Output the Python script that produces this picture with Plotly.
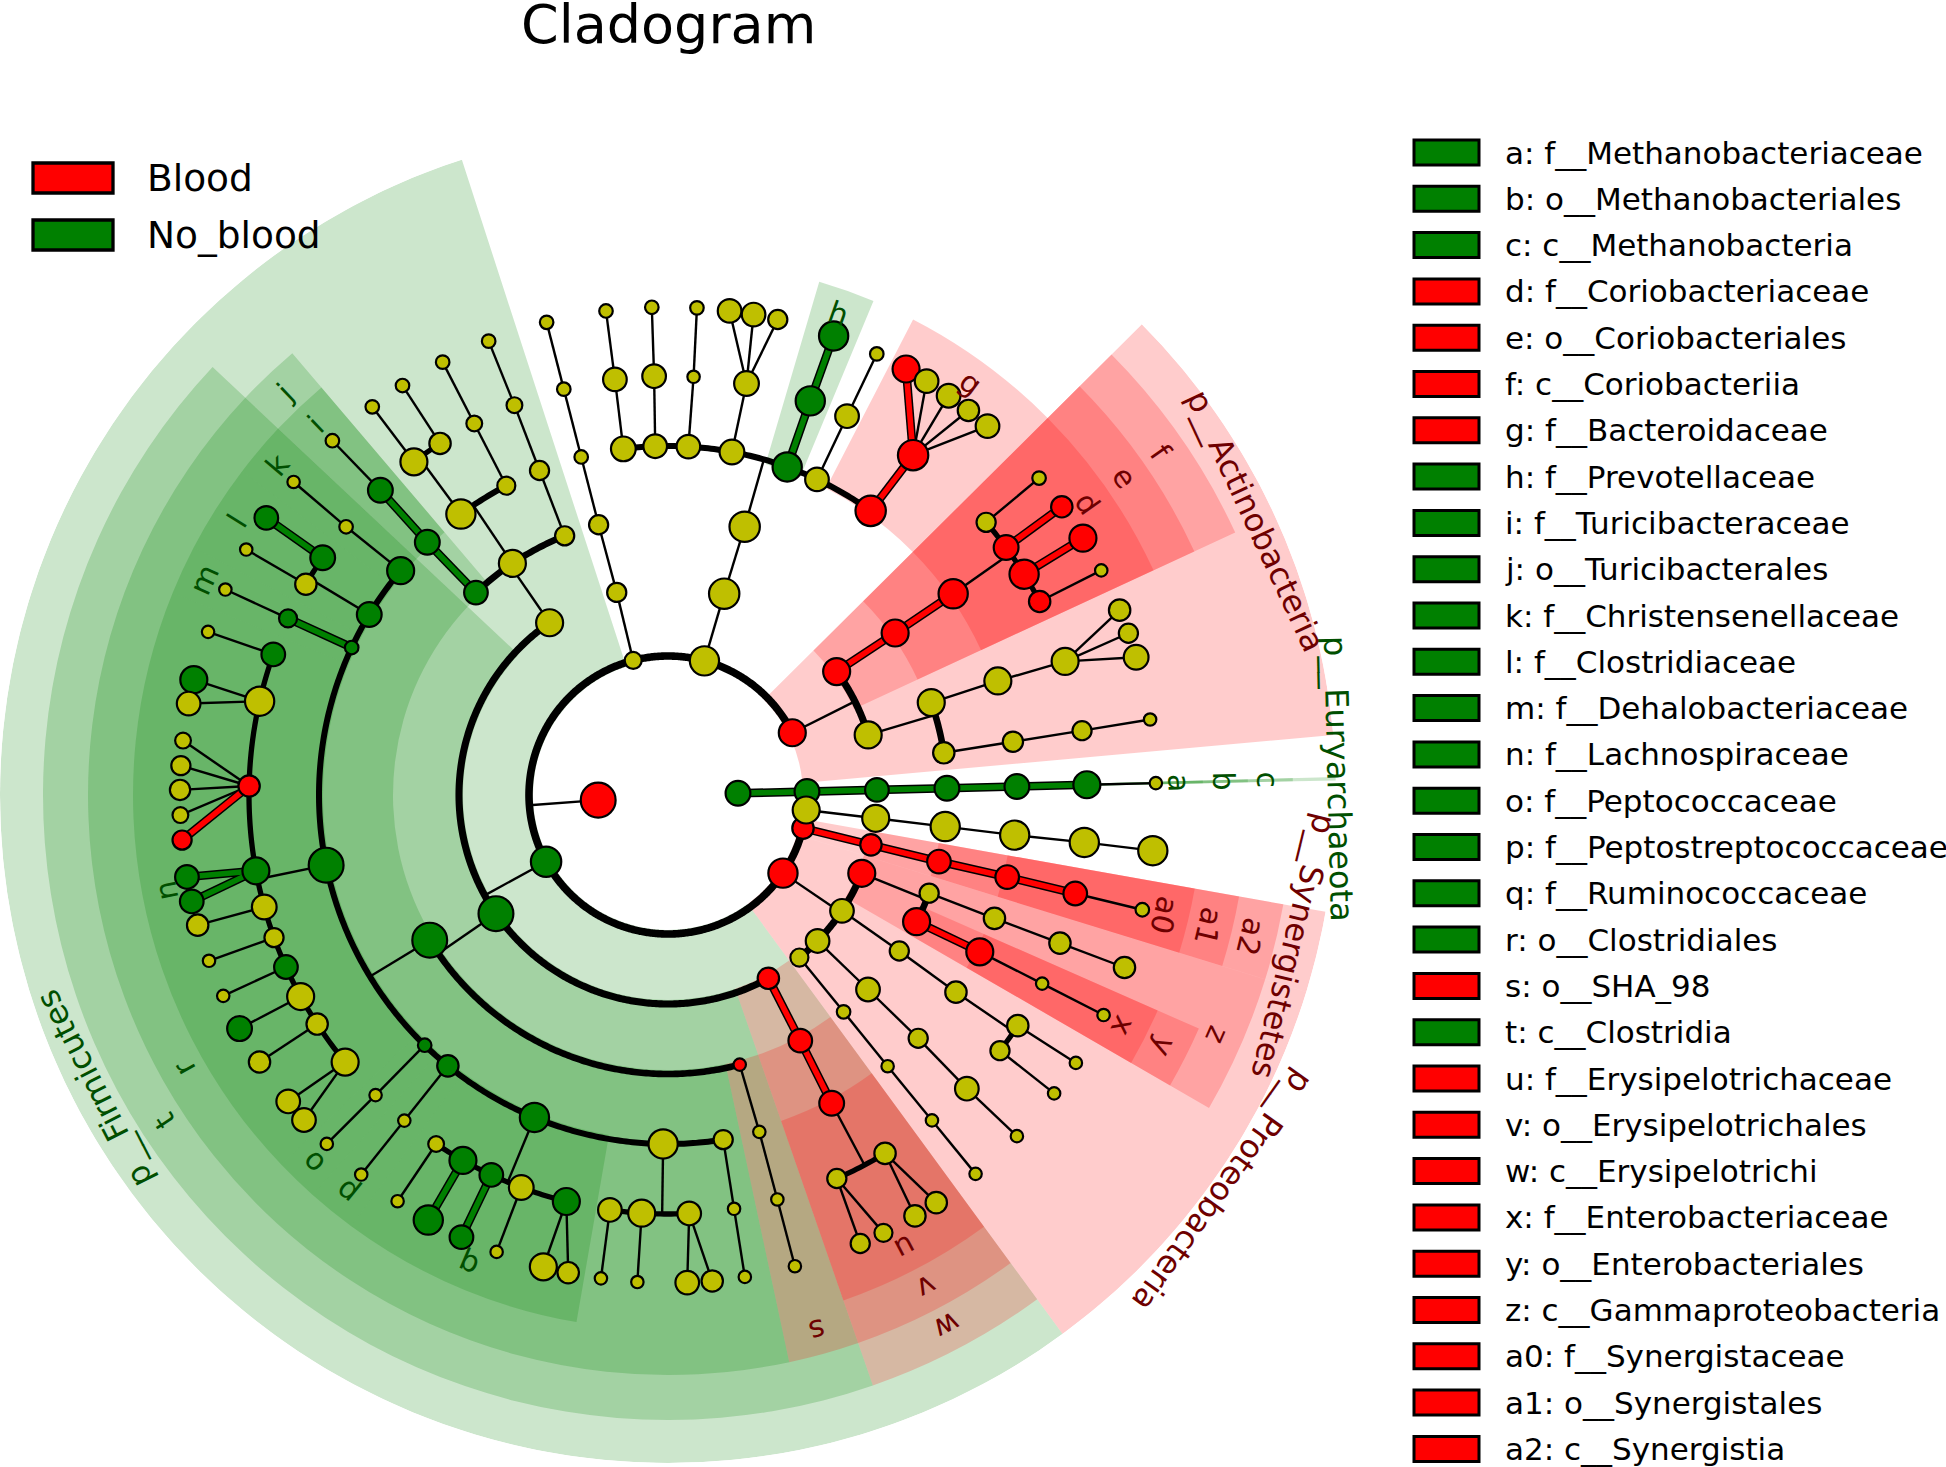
import numpy as np
import plotly.graph_objects as go

# ------------------------------------------------------------------ data
# ring radius (px) of every taxonomic level: root, kingdom, phylum, class, order, family, genus, species
LEVEL_RADIUS = [0, 70, 139, 209, 279, 349, 419, 488]

# clade tables: (id, parent, level, angle in degrees, node size, enriched in)
#   enriched in: "B" = Blood, "N" = No_blood, "" = not significant
ARCHAEA = [
    ("k_Archaea", None, 1, 1.4, 23, "N"),
    ("p_Euryarchaeota", "k_Archaea", 2, 1.4, 23, "N"),
    ("c_Methanobacteria", "p_Euryarchaeota", 3, 1.4, 22, "N"),
    ("o_Methanobacteriales", "c_Methanobacteria", 4, 1.4, 23, "N"),
    ("f_Methanobacteriaceae", "o_Methanobacteriales", 5, 1.4, 23, "N"),
    ("g_Methanobrevibacter", "f_Methanobacteriaceae", 6, 1.4, 25, "N"),
    ("s_Methanobrevibacter", "g_Methanobrevibacter", 7, 1.4, 12, ""),
]

BACTERIA = [
    ("k_Bacteria", None, 1, 184.2, 32, "B"),
]

ACTINOBACTERIA = [
    ("p_Actinobacteria", "k_Bacteria", 2, 26.6, 25, "B"),
    ("c_Coriobacteriia", "p_Actinobacteria", 3, 36.2, 25, "B"),
    ("o_Coriobacteriales", "c_Coriobacteriia", 4, 35.5, 25, "B"),
    ("f_Coriobacteriaceae", "o_Coriobacteriales", 5, 35.2, 27, "B"),
    ("g_Cor1", "f_Coriobacteriaceae", 6, 40.6, 18, ""),
    ("s_Cor1", "g_Cor1", 7, 40.5, 13, ""),
    ("g_Cor2", "f_Coriobacteriaceae", 6, 36.2, 23, "B"),
    ("s_Cor2", "g_Cor2", 7, 36.2, 20, "B"),
    ("g_Cor3", "f_Coriobacteriaceae", 6, 31.8, 27, "B"),
    ("s_Cor3", "g_Cor3", 7, 31.76, 25, "B"),
    ("g_Cor4", "f_Coriobacteriaceae", 6, 27.5, 20, "B"),
    ("s_Cor4", "g_Cor4", 7, 27.4, 12, ""),
    ("c_Actinobacteria", "p_Actinobacteria", 3, 16.7, 25, ""),
    ("o_Act1", "c_Actinobacteria", 4, 19.34, 25, ""),
    ("f_Act1", "o_Act1", 5, 19.07, 25, ""),
    ("g_Act1", "f_Act1", 6, 18.6, 25, ""),
    ("s_Act1a", "g_Act1", 7, 22.26, 20, ""),
    ("s_Act1b", "g_Act1", 7, 19.36, 18, ""),
    ("s_Act1c", "g_Act1", 7, 16.4, 23, ""),
    ("o_Act2", "c_Actinobacteria", 4, 8.7, 20, ""),
    ("f_Act2", "o_Act2", 5, 8.78, 19, ""),
    ("g_Act2", "f_Act2", 6, 8.83, 18, ""),
    ("s_Act2", "g_Act2", 7, 8.9, 12, ""),
]

BACTEROIDETES = [
    ("p_Bacteroidetes", "k_Bacteria", 2, 74.8, 27, ""),
    ("c_Bacteroidia", "p_Bacteroidetes", 3, 74.4, 28, ""),
    ("o_Bacteroidales", "c_Bacteroidia", 4, 74.05, 28, ""),
    ("f_Bd1", "o_Bacteroidales", 5, 97.35, 23, ""),
    ("g_Bd1", "f_Bd1", 6, 97.28, 22, ""),
    ("s_Bd1", "g_Bd1", 7, 97.3, 13, ""),
    ("f_Bd2", "o_Bacteroidales", 5, 92.1, 22, ""),
    ("g_Bd2", "f_Bd2", 6, 91.9, 22, ""),
    ("s_Bd2", "g_Bd2", 7, 91.9, 13, ""),
    ("f_Bd3", "o_Bacteroidales", 5, 86.65, 22, ""),
    ("g_Bd3", "f_Bd3", 6, 86.5, 12, ""),
    ("s_Bd3", "g_Bd3", 7, 86.6, 13, ""),
    ("f_Bd4", "o_Bacteroidales", 5, 79.44, 23, ""),
    ("g_Bd4", "f_Bd4", 6, 79.2, 23, ""),
    ("s_Bd4a", "g_Bd4", 7, 82.75, 22, ""),
    ("s_Bd4b", "g_Bd4", 7, 79.9, 22, ""),
    ("s_Bd4c", "g_Bd4", 7, 77.0, 18, ""),
    ("f_Prevotellaceae", "o_Bacteroidales", 5, 70.03, 27, "N"),
    ("g_Prevotella", "f_Prevotellaceae", 6, 70.15, 27, "N"),
    ("s_Prevotella", "g_Prevotella", 7, 70.16, 27, "N"),
    ("f_Bd6", "o_Bacteroidales", 5, 64.73, 22, ""),
    ("g_Bd6", "f_Bd6", 6, 64.7, 22, ""),
    ("s_Bd6", "g_Bd6", 7, 64.67, 13, ""),
    ("f_Bacteroidaceae", "o_Bacteroidales", 5, 54.5, 28, "B"),
    ("g_Bacteroides", "f_Bacteroidaceae", 6, 54.2, 28, "B"),
    ("s_Bac1", "g_Bacteroides", 7, 60.8, 25, "B"),
    ("s_Bac2", "g_Bacteroides", 7, 58.0, 22, ""),
    ("s_Bac3", "g_Bacteroides", 7, 54.9, 22, ""),
    ("s_Bac4", "g_Bacteroides", 7, 52.0, 20, ""),
    ("s_Bac5", "g_Bacteroides", 7, 49.1, 22, ""),
]

PHYLUM_A = [
    ("p_A", "k_Bacteria", 2, 104.5, 16, ""),
    ("c_A", "p_A", 3, 104.2, 18, ""),
    ("o_A", "c_A", 4, 104.4, 18, ""),
    ("f_A", "o_A", 5, 104.4, 13, ""),
    ("g_A", "f_A", 6, 104.4, 13, ""),
    ("s_A", "g_A", 7, 104.4, 13, ""),
]

FIRMICUTES = [
    ("p_Firmicutes", "k_Bacteria", 2, 208.7, 28, "N"),
    # Bacilli
    ("c_Bacilli", "p_Firmicutes", 3, 124.5, 25, ""),
    ("o_Turicibacterales", "c_Bacilli", 4, 133.5, 22, "N"),
    ("f_Turicibacteraceae", "o_Turicibacterales", 5, 133.6, 23, "N"),
    ("g_Turicibacter", "f_Turicibacteraceae", 6, 133.35, 23, "N"),
    ("s_Turicibacter", "g_Turicibacter", 7, 133.45, 13, ""),
    ("o_Lactobacillales", "c_Bacilli", 4, 123.9, 25, ""),
    ("f_Lb1", "o_Lactobacillales", 5, 126.4, 27, ""),
    ("g_Lb1a", "f_Lb1", 6, 127.33, 25, ""),
    ("s_Lb1a", "g_Lb1a", 7, 127.3, 13, ""),
    ("g_Lb1b", "f_Lb1", 6, 122.96, 20, ""),
    ("s_Lb1b", "g_Lb1b", 7, 122.96, 13, ""),
    ("f_Lb2", "o_Lactobacillales", 5, 117.6, 17, ""),
    ("g_Lb2", "f_Lb2", 6, 117.54, 15, ""),
    ("s_Lb2", "g_Lb2", 7, 117.5, 13, ""),
    ("o_Bacillales", "c_Bacilli", 4, 111.74, 18, ""),
    ("f_Bc1", "o_Bacillales", 5, 111.6, 18, ""),
    ("g_Bc1", "f_Bc1", 6, 111.5, 15, ""),
    ("s_Bc1", "g_Bc1", 7, 111.56, 13, ""),
    # Clostridia
    ("c_Clostridia", "p_Firmicutes", 3, 214.6, 32, "N"),
    ("o_Clostridiales", "c_Clostridia", 4, 211.35, 32, "N"),
    ("f_Christensenellaceae", "o_Clostridiales", 5, 140.0, 25, "N"),
    ("g_k1", "f_Christensenellaceae", 6, 140.2, 13, ""),
    ("s_k1", "g_k1", 7, 140.1, 12, ""),
    ("f_Clostridiaceae", "o_Clostridiales", 5, 148.87, 23, "N"),
    ("g_l1", "f_Clostridiaceae", 6, 145.5, 23, "N"),
    ("s_l1", "g_l1", 7, 145.4, 22, "N"),
    ("g_l2", "f_Clostridiaceae", 6, 149.8, 20, ""),
    ("s_l2", "g_l2", 7, 149.8, 12, ""),
    ("f_Dehalobacteriaceae", "o_Clostridiales", 5, 155.0, 13, "N"),
    ("g_m1", "f_Dehalobacteriaceae", 6, 155.07, 17, "N"),
    ("s_m1", "g_m1", 7, 155.1, 12, ""),
    ("f_Lachnospiraceae", "o_Clostridiales", 5, 191.6, 32, "N"),
    ("g_n1", "f_Lachnospiraceae", 6, 160.4, 22, "N"),
    ("s_n1", "g_n1", 7, 160.47, 12, ""),
    ("g_n2", "f_Lachnospiraceae", 6, 167.07, 27, ""),
    ("s_n2a", "g_n2", 7, 166.33, 25, "N"),
    ("s_n2b", "g_n2", 7, 169.2, 22, ""),
    ("g_n3", "f_Lachnospiraceae", 6, 178.77, 20, "B"),
    ("s_n3a", "g_n3", 7, 173.6, 15, ""),
    ("s_n3b", "g_n3", 7, 176.55, 18, ""),
    ("s_n3c", "g_n3", 7, 179.4, 19, ""),
    ("s_n3d", "g_n3", 7, 182.36, 15, ""),
    ("s_n3e", "g_n3", 7, 185.3, 18, "B"),
    ("g_n4", "f_Lachnospiraceae", 6, 190.42, 25, "N"),
    ("s_n4a", "g_n4", 7, 189.67, 22, "N"),
    ("s_n4b", "g_n4", 7, 192.6, 22, "N"),
    ("g_n5", "f_Lachnospiraceae", 6, 195.5, 23, ""),
    ("s_n5", "g_n5", 7, 195.47, 20, ""),
    ("g_n6", "f_Lachnospiraceae", 6, 199.9, 18, ""),
    ("s_n6", "g_n6", 7, 199.86, 12, ""),
    ("g_n7", "f_Lachnospiraceae", 6, 204.24, 22, "N"),
    ("s_n7", "g_n7", 7, 204.3, 12, ""),
    ("g_n8", "f_Lachnospiraceae", 6, 208.75, 25, ""),
    ("s_n8", "g_n8", 7, 208.6, 23, "N"),
    ("g_n9", "f_Lachnospiraceae", 6, 213.14, 20, ""),
    ("s_n9", "g_n9", 7, 213.17, 20, ""),
    ("g_n10", "f_Lachnospiraceae", 6, 219.6, 25, ""),
    ("s_n10a", "g_n10", 7, 218.9, 22, ""),
    ("s_n10b", "g_n10", 7, 221.76, 22, ""),
    ("f_Peptococcaceae", "o_Clostridiales", 5, 225.8, 13, "N"),
    ("g_o1", "f_Peptococcaceae", 6, 225.74, 12, ""),
    ("s_o1", "g_o1", 7, 225.64, 12, ""),
    ("f_Peptostreptococcaceae", "o_Clostridiales", 5, 230.9, 20, "N"),
    ("g_p1", "f_Peptostreptococcaceae", 6, 231.0, 12, ""),
    ("s_p1", "g_p1", 7, 231.05, 12, ""),
    ("f_Ruminococcaceae", "o_Clostridiales", 5, 247.5, 27, "N"),
    ("g_q1", "f_Ruminococcaceae", 6, 236.4, 15, ""),
    ("s_q1", "g_q1", 7, 236.35, 12, ""),
    ("g_q2", "f_Ruminococcaceae", 6, 240.7, 25, "N"),
    ("s_q2", "g_q2", 7, 240.58, 27, "N"),
    ("g_q3", "f_Ruminococcaceae", 6, 245.06, 22, "N"),
    ("s_q3", "g_q3", 7, 244.96, 22, "N"),
    ("g_q4", "f_Ruminococcaceae", 6, 249.5, 23, ""),
    ("s_q4", "g_q4", 7, 249.44, 12, ""),
    ("g_q5", "f_Ruminococcaceae", 6, 255.96, 25, "N"),
    ("s_q5a", "g_q5", 7, 255.2, 25, ""),
    ("s_q5b", "g_q5", 7, 258.2, 20, ""),
    ("f_Cl8", "o_Clostridiales", 5, 269.2, 27, ""),
    ("g_c8a", "f_Cl8", 6, 262.03, 22, ""),
    ("s_c8a", "g_c8a", 7, 262.1, 12, ""),
    ("g_c8b", "f_Cl8", 6, 266.4, 25, ""),
    ("s_c8b", "g_c8b", 7, 266.4, 12, ""),
    ("g_c8c", "f_Cl8", 6, 272.9, 22, ""),
    ("s_c8c", "g_c8c", 7, 272.26, 22, ""),
    ("s_c8d", "g_c8c", 7, 275.2, 20, ""),
    ("f_Cl9", "o_Clostridiales", 5, 279.1, 18, ""),
    ("g_c9", "f_Cl9", 6, 279.07, 12, ""),
    ("s_c9", "g_c9", 7, 279.06, 12, ""),
    ("o_SHA_98", "c_Clostridia", 4, 284.9, 12, "B"),
    ("f_SHA", "o_SHA_98", 5, 285.17, 12, ""),
    ("g_SHA", "f_SHA", 6, 285.13, 12, ""),
    ("s_SHA", "g_SHA", 7, 285.07, 12, ""),
    # Erysipelotrichi
    ("c_Erysipelotrichi", "p_Firmicutes", 3, 298.7, 20, "B"),
    ("o_Erysipelotrichales", "c_Erysipelotrichi", 4, 298.3, 22, "B"),
    ("f_Erysipelotrichaceae", "o_Erysipelotrichales", 5, 297.97, 23, "B"),
    ("g_e1", "f_Erysipelotrichaceae", 6, 293.76, 18, ""),
    ("s_e1a", "g_e1", 7, 293.2, 18, ""),
    ("s_e1b", "g_e1", 7, 296.2, 17, ""),
    ("g_e2", "f_Erysipelotrichaceae", 6, 301.2, 20, ""),
    ("s_e2a", "g_e2", 7, 300.4, 20, ""),
    ("s_e2b", "g_e2", 7, 303.35, 20, ""),
]

PROTEOBACTERIA = [
    ("p_Proteobacteria", "k_Bacteria", 2, 325.8, 27, "B"),
    ("c_Gammaproteobacteria", "p_Proteobacteria", 3, 338.0, 25, "B"),
    ("o_Pr1", "c_Gammaproteobacteria", 4, 339.4, 18, ""),
    ("f_Pr1", "o_Pr1", 5, 339.3, 20, ""),
    ("g_Pr1", "f_Pr1", 6, 339.3, 20, ""),
    ("s_Pr1", "g_Pr1", 7, 339.3, 20, ""),
    ("o_Enterobacteriales", "c_Gammaproteobacteria", 4, 333.0, 25, "B"),
    ("f_Enterobacteriaceae", "o_Enterobacteriales", 5, 333.3, 25, "B"),
    ("g_Ent", "f_Enterobacteriaceae", 6, 333.25, 12, ""),
    ("s_Ent", "g_Ent", 7, 333.2, 12, ""),
    ("c_Pr2", "p_Proteobacteria", 3, 326.35, 22, ""),
    ("o_Pr2", "c_Pr2", 4, 326.0, 18, ""),
    ("f_Pr2", "o_Pr2", 5, 325.6, 20, ""),
    ("g_Pr2a", "f_Pr2", 6, 326.6, 20, ""),
    ("s_Pr2a", "g_Pr2a", 7, 326.7, 12, ""),
    ("g_Pr2b", "f_Pr2", 6, 322.4, 18, ""),
    ("s_Pr2b", "g_Pr2b", 7, 322.3, 12, ""),
    ("c_Pr3", "p_Proteobacteria", 3, 315.7, 22, ""),
    ("o_Pr3", "c_Pr3", 4, 315.8, 22, ""),
    ("f_Pr3", "o_Pr3", 5, 315.8, 18, ""),
    ("g_Pr3", "f_Pr3", 6, 315.5, 22, ""),
    ("s_Pr3", "g_Pr3", 7, 315.64, 12, ""),
    ("c_Pr4", "p_Proteobacteria", 3, 308.95, 17, ""),
    ("o_Pr4", "c_Pr4", 4, 309.0, 13, ""),
    ("f_Pr4", "o_Pr4", 5, 309.0, 12, ""),
    ("g_Pr4", "f_Pr4", 6, 309.05, 12, ""),
    ("s_Pr4", "g_Pr4", 7, 309.07, 12, ""),
]

SYNERGISTETES = [
    ("p_Synergistetes", "k_Bacteria", 2, 346.2, 20, "B"),
    ("c_Synergistia", "p_Synergistetes", 3, 346.2, 20, "B"),
    ("o_Synergistales", "c_Synergistia", 4, 346.2, 22, "B"),
    ("f_Synergistaceae", "o_Synergistales", 5, 346.4, 22, "B"),
    ("g_Syn", "f_Synergistaceae", 6, 346.4, 22, "B"),
    ("s_Syn", "g_Syn", 7, 346.4, 13, ""),
]

PHYLUM_B = [
    ("p_B", "k_Bacteria", 2, 353.8, 25, ""),
    ("c_B", "p_B", 3, 353.6, 25, ""),
    ("o_B", "c_B", 4, 353.5, 27, ""),
    ("f_B", "o_B", 5, 353.4, 27, ""),
    ("g_B", "f_B", 6, 353.5, 27, ""),
    ("s_B", "g_B", 7, 353.45, 27, ""),
]

# highlighted biomarker clades and the text drawn on their sector
CLADE_LABELS = {
    "p_Euryarchaeota": "p__Euryarchaeota", "c_Methanobacteria": "c",
    "o_Methanobacteriales": "b", "f_Methanobacteriaceae": "a",
    "p_Actinobacteria": "p__Actinobacteria", "c_Coriobacteriia": "f",
    "o_Coriobacteriales": "e", "f_Coriobacteriaceae": "d",
    "f_Bacteroidaceae": "g", "f_Prevotellaceae": "h",
    "p_Firmicutes": "p__Firmicutes", "c_Clostridia": "t", "o_Clostridiales": "r",
    "o_Turicibacterales": "j", "f_Turicibacteraceae": "i",
    "f_Christensenellaceae": "k", "f_Clostridiaceae": "l", "f_Dehalobacteriaceae": "m",
    "f_Lachnospiraceae": "n", "f_Peptococcaceae": "o", "f_Peptostreptococcaceae": "p",
    "f_Ruminococcaceae": "q", "o_SHA_98": "s",
    "c_Erysipelotrichi": "w", "o_Erysipelotrichales": "v", "f_Erysipelotrichaceae": "u",
    "p_Proteobacteria": "p__Proteobacteria", "c_Gammaproteobacteria": "z",
    "o_Enterobacteriales": "y", "f_Enterobacteriaceae": "x",
    "p_Synergistetes": "p__Synergistetes", "c_Synergistia": "a2",
    "o_Synergistales": "a1", "f_Synergistaceae": "a0",
}
PHYLUM_LABEL_RADIUS = {"p_Actinobacteria": 648, "p_Euryarchaeota": 671, "p_Synergistetes": 644,
                       "p_Proteobacteria": 681, "p_Firmicutes": 644}

LEGEND_KEYS = ["a", "b", "c", "d", "e", "f", "g", "h", "i", "j", "k", "l", "m", "n", "o",
               "p", "q", "r", "s", "t", "u", "v", "w", "x", "y", "z", "a0", "a1", "a2"]
LEGEND_NAMES = ["f__Methanobacteriaceae", "o__Methanobacteriales", "c__Methanobacteria",
                "f__Coriobacteriaceae", "o__Coriobacteriales", "c__Coriobacteriia",
                "f__Bacteroidaceae", "f__Prevotellaceae", "f__Turicibacteraceae",
                "o__Turicibacterales", "f__Christensenellaceae", "f__Clostridiaceae",
                "f__Dehalobacteriaceae", "f__Lachnospiraceae", "f__Peptococcaceae",
                "f__Peptostreptococcaceae", "f__Ruminococcaceae", "o__Clostridiales",
                "o__SHA_98", "c__Clostridia", "f__Erysipelotrichaceae", "o__Erysipelotrichales",
                "c__Erysipelotrichi", "f__Enterobacteriaceae", "o__Enterobacteriales",
                "c__Gammaproteobacteria", "f__Synergistaceae", "o__Synergistales", "c__Synergistia"]
LEGEND_GROUP = ["N", "N", "N", "B", "B", "B", "B", "N", "N", "N", "N", "N", "N", "N", "N",
                "N", "N", "N", "B", "N", "B", "B", "B", "B", "B", "B", "B", "B", "B"]
GROUP_NAMES = {"B": "Blood", "N": "No_blood"}

# ------------------------------------------------------------------ style / geometry
W, H = 1946, 1467
CX, CY = 668, 795          # pixel centre of the cladogram
RMAX = 668
FONT = "DejaVu Sans"
NODE_COLOR = {"B": "#ff0000", "N": "#008000", "": "#bfbf00"}
BAND_COLOR = {"B": "rgba(255,0,0,0.2)", "N": "rgba(0,128,0,0.2)"}
TEXT_COLOR = {"B": "#6e0000", "N": "#004f00"}
BAND_OUTER = {2: 668, 3: 625, 4: 580, 5: 535}
LABEL_RADIUS = {2: 645, 3: 600, 4: 556, 5: 511}
ARC_WIDTH = {2: 7.6, 3: 7.1, 4: 6.6, 5: 6.0, 6: 5.3}
THIN_WIDTH = 2.4
NODE_SCALE = 1.12

nodes = (ARCHAEA + BACTERIA + ACTINOBACTERIA + BACTEROIDETES + PHYLUM_A +
         FIRMICUTES + PROTEOBACTERIA + SYNERGISTETES + PHYLUM_B)
ids = [n[0] for n in nodes]
par = {n[0]: n[1] for n in nodes}
lev = {n[0]: n[2] for n in nodes}
ang = {n[0]: n[3] for n in nodes}
siz = {n[0]: n[4] for n in nodes}
grp = {n[0]: n[5] for n in nodes}
children = {i: [] for i in ids}
for i in ids:
    if par[i] is not None:
        children[par[i]].append(i)

leaf_order = sorted([i for i in ids if not children[i]], key=lambda i: ang[i])
leaf_angles = [ang[i] for i in leaf_order]
leaf_pos = {i: k for k, i in enumerate(leaf_order)}


def clade_leaves(i):
    if not children[i]:
        return [i]
    out = []
    for c in children[i]:
        out += clade_leaves(c)
    return out


def clade_span(i):
    ls = sorted(clade_leaves(i), key=lambda j: leaf_pos[j])
    k0, k1 = leaf_pos[ls[0]], leaf_pos[ls[-1]]
    lo, hi = ang[ls[0]], ang[ls[-1]]
    if k0 == 0:                      # first clade of the circle: degenerate sector
        return lo - 0.15, hi + 0.15
    prev = leaf_angles[k0 - 1]
    nxt = leaf_angles[k1 + 1] if k1 + 1 < len(leaf_angles) else leaf_angles[0] + 360
    return (prev + lo) / 2.0, (hi + nxt) / 2.0


fig = go.Figure()

# ---- highlighted sectors
bt, bw, bb, br, bc = [], [], [], [], []
for cl in sorted(CLADE_LABELS, key=lambda c: lev[c]):
    s, e = clade_span(cl)
    L = lev[cl]
    base = LEVEL_RADIUS[L] - 4
    bt.append((s + e) / 2.0)
    bw.append(e - s)
    bb.append(base)
    br.append(BAND_OUTER[L] - base)
    bc.append(BAND_COLOR[grp[cl]])
fig.add_trace(go.Barpolar(theta=bt, r=br, base=bb, width=bw,
                          marker=dict(color=bc, line=dict(width=0)),
                          hoverinfo="skip", showlegend=False))

# ---- tree links
thin = ([], [])
arcs = {L: ([], []) for L in range(2, 7)}
colored = {"B": ([], []), "N": ([], [])}


def add(store, th, rr):
    store[0].extend(list(th) + [None])
    store[1].extend(list(rr) + [None])


for p in ids:
    ch = sorted(children[p], key=lambda c: ang[c])
    if not ch:
        continue
    Lc = lev[ch[0]]
    rp, rc = LEVEL_RADIUS[lev[p]], LEVEL_RADIUS[Lc]
    if Lc == 7 or len(ch) == 1:
        for c in ch:
            if grp[p] and grp[p] == grp[c]:
                add(colored[grp[c]], [ang[p], ang[c]], [rp, rc])
            else:
                add(thin, [ang[p], ang[c]], [rp, rc])
    else:
        add(thin, [ang[p], ang[p]], [rp, rc])
        lo, hi = ang[ch[0]], ang[ch[-1]]
        n = max(2, int((hi - lo) / 0.5) + 2)
        add(arcs[Lc], np.linspace(lo, hi, n).tolist(), [rc] * n)

fig.add_trace(go.Scatterpolar(theta=thin[0], r=thin[1], mode="lines",
                              line=dict(color="black", width=THIN_WIDTH),
                              hoverinfo="skip", showlegend=False))
for L, (t, r) in arcs.items():
    if t:
        fig.add_trace(go.Scatterpolar(theta=t, r=r, mode="lines",
                                      line=dict(color="black", width=ARC_WIDTH[L]),
                                      hoverinfo="skip", showlegend=False))
for g, (t, r) in colored.items():
    if t:
        fig.add_trace(go.Scatterpolar(theta=t, r=r, mode="lines",
                                      line=dict(color="black", width=8.6),
                                      hoverinfo="skip", showlegend=False))
        fig.add_trace(go.Scatterpolar(theta=t, r=r, mode="lines",
                                      line=dict(color=NODE_COLOR[g], width=5.6),
                                      hoverinfo="skip", showlegend=False))

# ---- nodes
fig.add_trace(go.Scatterpolar(
    theta=[ang[i] for i in ids], r=[LEVEL_RADIUS[lev[i]] for i in ids], mode="markers",
    marker=dict(size=[siz[i] * NODE_SCALE - 1.0 for i in ids],
                color=[NODE_COLOR[grp[i]] for i in ids],
                line=dict(color="black", width=2.2), opacity=1),
    hoverinfo="skip", showlegend=False))

# invisible cartesian overlay (1 unit = 1 px, origin at the cladogram centre) for text
fig.add_trace(go.Scatter(x=[0], y=[0], mode="markers", marker=dict(opacity=0),
                         hoverinfo="skip", showlegend=False))


def P(px, py):
    return px - CX, CY - py


annotations = []
for cl, txt in CLADE_LABELS.items():
    s, e = clade_span(cl)
    th = (s + e) / 2.0
    L = lev[cl]
    rad = PHYLUM_LABEL_RADIUS.get(cl, LABEL_RADIUS[L])
    rot = 90.0 - th
    rot = ((rot + 180.0) % 360.0) - 180.0
    annotations.append(dict(
        x=rad * np.cos(np.radians(th)), y=rad * np.sin(np.radians(th)), xref="x", yref="y",
        text=txt, showarrow=False, textangle=rot, xanchor="center", yanchor="middle",
        font=dict(family=FONT, size=32 if L == 2 else 30, color=TEXT_COLOR[grp[cl]])))

# title
tx, ty = P(668, 24)
annotations.append(dict(x=tx, y=ty, xref="x", yref="y", text="Cladogram", showarrow=False,
                        xanchor="center", yanchor="middle",
                        font=dict(family=FONT, size=54, color="black")))

shapes = []
# group legend (top-left)
for k, g in enumerate(["B", "N"]):
    top = 163 + k * 57
    x0, y0 = P(33, top)
    x1, y1 = P(113, top + 30)
    shapes.append(dict(type="rect", xref="x", yref="y", x0=x0, y0=y1, x1=x1, y1=y0,
                       fillcolor=NODE_COLOR[g], line=dict(color="black", width=3.3)))
    lx, ly = P(145, top + 15)
    annotations.append(dict(x=lx, y=ly, xref="x", yref="y", text=GROUP_NAMES[g], showarrow=False,
                            xanchor="left", yanchor="middle",
                            font=dict(family=FONT, size=37.5, color="black")))

# clade legend (right)
for k, (key, name, g) in enumerate(zip(LEGEND_KEYS, LEGEND_NAMES, LEGEND_GROUP)):
    cy = 152.5 + k * 46.3
    x0, y0 = P(1414, cy - 12.5)
    x1, y1 = P(1479, cy + 12.5)
    shapes.append(dict(type="rect", xref="x", yref="y", x0=x0, y0=y1, x1=x1, y1=y0,
                       fillcolor=NODE_COLOR[g], line=dict(color="black", width=3)))
    lx, ly = P(1503, cy)
    annotations.append(dict(x=lx, y=ly, xref="x", yref="y", text=f"{key}: {name}",
                            showarrow=False, xanchor="left", yanchor="middle",
                            font=dict(family=FONT, size=31, color="black")))

fig.update_layout(
    width=W, height=H, margin=dict(l=0, r=0, t=0, b=0),
    paper_bgcolor="white", plot_bgcolor="rgba(0,0,0,0)", showlegend=False,
    polar=dict(
        domain=dict(x=[(CX - RMAX) / W, (CX + RMAX) / W],
                    y=[(H - CY - RMAX) / H, (H - CY + RMAX) / H]),
        bgcolor="rgba(0,0,0,0)",
        radialaxis=dict(visible=False, range=[0, RMAX]),
        angularaxis=dict(visible=False, direction="counterclockwise", rotation=0),
    ),
    xaxis=dict(domain=[0, 1], range=[-CX, W - CX], visible=False, fixedrange=True),
    yaxis=dict(domain=[0, 1], range=[-(H - CY), CY], visible=False, fixedrange=True),
    annotations=annotations, shapes=shapes,
)

fig.write_html("out.html", config={"displayModeBar": False},
               post_script="document.body.style.margin='0px';document.body.style.overflow='hidden';")
